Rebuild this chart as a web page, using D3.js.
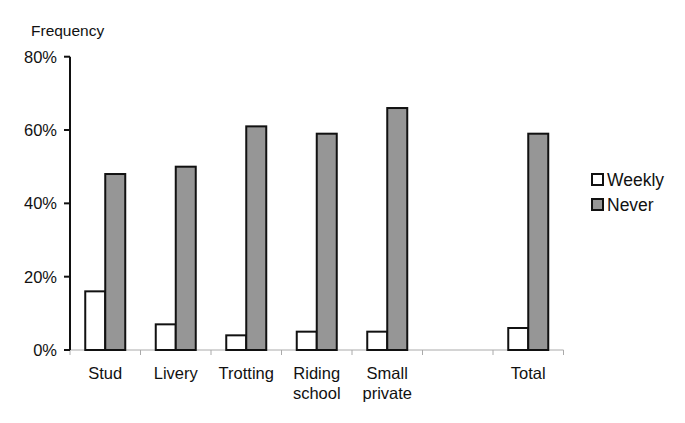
<!DOCTYPE html>
<html><head><meta charset="utf-8">
<script src="https://cdn.jsdelivr.net/npm/d3@7"></script>
<style>body{margin:0;background:#fff}svg{display:block}text{font-family:"Liberation Sans",Arial,Helvetica,sans-serif;fill:#111}</style>
</head><body>
<script>
const categories = [["Stud"],["Livery"],["Trotting"],["Riding","school"],["Small","private"],[""],["Total"]];
const series = ["Weekly","Never"];
const weekly = [16, 7, 4, 5, 5, null, 6];
const never = [48, 50, 61, 59, 66, null, 59];
const yTicks = [0, 20, 40, 60, 80];
const colors = {Weekly:"#ffffff", Never:"#969696"};

const W=685,H=423;
const svg=d3.select("body").append("svg").attr("width",W).attr("height",H);
const x=d3.scaleBand().domain(d3.range(categories.length)).range([70,563.5]);
const y=d3.scaleLinear().domain([0,80]).range([350,56.7]);
const barW=20;
const sub=d3.scaleBand().domain(series).range([0,barW*2]);

// x axis line and ticks
svg.append("line").attr("x1",70).attr("x2",563.5).attr("y1",y(0)).attr("y2",y(0)).attr("stroke","#aaa").attr("stroke-width",1);
const bounds=d3.range(categories.length+1).map(i=>i<categories.length?x(i):x.range()[1]);
svg.selectAll(".xt").data(bounds).join("line").attr("x1",d=>d).attr("x2",d=>d).attr("y1",y(0)).attr("y2",y(0)+5).attr("stroke","#aaa");

// bars
const data=[];
categories.forEach((c,i)=>{
  [["Weekly",weekly[i]],["Never",never[i]]].forEach(([s,v])=>{ if(v!=null) data.push({i,s,v}); });
});
svg.selectAll(".bar").data(data).join("rect")
  .attr("x",d=>x(d.i)+x.bandwidth()/2-barW+sub(d.s))
  .attr("width",barW)
  .attr("y",d=>y(d.v))
  .attr("height",d=>y(0)-y(d.v))
  .attr("fill",d=>colors[d.s]).attr("stroke","#111").attr("stroke-width",2);

// y axis
svg.append("line").attr("x1",70).attr("x2",70).attr("y1",y(80)).attr("y2",y(0)).attr("stroke","#111").attr("stroke-width",2);
svg.selectAll(".yt").data(yTicks).join("line").attr("x1",64).attr("x2",70).attr("y1",d=>y(d)).attr("y2",d=>y(d)).attr("stroke","#111").attr("stroke-width",2);
svg.selectAll(".yl").data(yTicks).join("text").attr("x",57).attr("y",d=>y(d)+6).attr("text-anchor","end").attr("font-size",16.5).text(d=>d+"%");

svg.append("text").attr("x",31).attr("y",36).attr("font-size",15.5).text("Frequency");

// category labels
categories.forEach((c,i)=>{
  const t=svg.append("text").attr("text-anchor","middle").attr("font-size",16.5).attr("x",x(i)+x.bandwidth()/2).attr("y",379);
  c.forEach((ln,k)=>t.append("tspan").attr("x",x(i)+x.bandwidth()/2).attr("dy",k?19.5:0).text(ln));
});

// legend
series.forEach((s,k)=>{
  const yy=174+k*25;
  svg.append("rect").attr("x",592).attr("y",yy).attr("width",11).attr("height",11).attr("fill",colors[s]).attr("stroke","#111").attr("stroke-width",2);
  svg.append("text").attr("x",607).attr("y",yy+12).attr("font-size",17.5).text(s);
});
</script>
</body></html>
